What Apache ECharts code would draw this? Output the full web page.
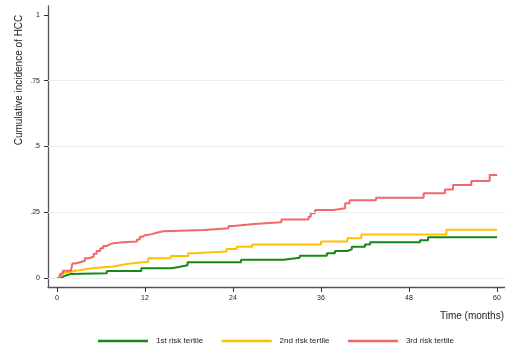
<!DOCTYPE html>
<html><head><meta charset="utf-8">
<script src="https://cdn.jsdelivr.net/npm/echarts@6/dist/echarts.min.js"></script>
<style>html,body{margin:0;padding:0;background:#fff}#c{width:505px;height:352px}</style>
</head><body><div id="c"></div>
<script>
const xTicks = [0, 12, 24, 36, 48, 60];
const yTicks = [0, 0.25, 0.5, 0.75, 1];
const yTickLabels = ['0', '.25', '.5', '.75', '1'];
const gridValues = [0, 0.25, 0.5, 0.75];
const seriesNames = ['1st risk tertile', '2nd risk tertile', '3rd risk tertile'];
const seriesColors = ['#168816', '#ffc000', '#f06868'];

const months1 = [0, 0.5, 0.8, 1.2, 1.8, 6.8, 11.5, 15.6, 16.6, 17.8, 25.1, 30.9, 33.1, 36.8, 37.9, 39.6, 40.2, 42.0, 42.7, 49.5, 50.6, 60];
const inc1 = [0, 0.005, 0.01, 0.015, 0.018, 0.027, 0.037, 0.042, 0.049, 0.060, 0.070, 0.077, 0.085, 0.094, 0.103, 0.109, 0.119, 0.128, 0.136, 0.144, 0.155, 0.155];

const months2 = [0, 0.3, 0.64, 1.3, 2.0, 2.45, 3.1, 4.05, 4.95, 6.3, 7.7, 8.6, 9.5, 11.1, 12.45, 15.5, 17.9, 18.7, 23.1, 24.5, 26.6, 36.0, 39.6, 41.5, 53.1, 60];
const inc2 = [0, 0.01, 0.020, 0.024, 0.028, 0.030, 0.034, 0.037, 0.041, 0.044, 0.049, 0.053, 0.058, 0.062, 0.075, 0.084, 0.094, 0.101, 0.110, 0.119, 0.128, 0.139, 0.151, 0.166, 0.184, 0.184];

const months3 = [0, 0.4, 0.8, 1.9, 2.1, 2.5, 3.4, 3.8, 4.3, 5.0, 5.4, 5.9, 6.3, 6.8, 7.2, 7.7, 9.0, 10.9, 11.3, 11.7, 12.0, 12.9, 13.6, 14.5, 20.1, 23.4, 24.05, 26.9, 30.6, 34.3, 34.6, 35.2, 37.7, 39.3, 39.9, 43.5, 50.0, 52.9, 54.0, 56.5, 59.0, 60];
const inc3 = [0, 0.015, 0.028, 0.035, 0.055, 0.062, 0.066, 0.075, 0.081, 0.092, 0.103, 0.113, 0.122, 0.128, 0.132, 0.136, 0.139, 0.147, 0.157, 0.163, 0.167, 0.172, 0.178, 0.183, 0.189, 0.198, 0.205, 0.212, 0.223, 0.233, 0.246, 0.259, 0.265, 0.284, 0.296, 0.305, 0.322, 0.337, 0.354, 0.369, 0.392, 0.392];

const allMonths = [months1, months2, months3];
const allInc = [inc1, inc2, inc3];

const FONT = 'Liberation Sans, Arial, sans-serif';
const chart = echarts.init(document.getElementById('c'), null, {renderer: 'canvas'});

const series = [{
  type: 'line', data: [], silent: true, z: 1,
  markLine: {
    silent: true, symbol: ['none', 'none'], label: {show: false},
    lineStyle: {color: '#e6eef0', width: 1, type: 'solid'},
    emphasis: {disabled: true},
    data: gridValues.map(v => ({yAxis: v}))
  }
}];
seriesNames.forEach((n, i) => {
  series.push({
    name: n, type: 'line', step: 'end', showSymbol: false, symbol: 'none', z: 3,
    lineStyle: {color: seriesColors[i], width: 2},
    itemStyle: {color: seriesColors[i]},
    data: allMonths[i].map((t, k) => [t, allInc[i][k]])
  });
});

chart.setOption({
  animation: false,
  backgroundColor: '#fff',
  grid: {left: 48, right: 0, top: 6, bottom: 65, containLabel: false},
  xAxis: {
    type: 'value', min: -1.227, max: 61.09,
    axisLine: {show: true, onZero: false, lineStyle: {color: '#555', width: 1.3}},
    axisTick: {show: true, customValues: xTicks, length: 5, lineStyle: {color: '#333', width: 1}},
    axisLabel: {customValues: xTicks, fontSize: 7, color: '#222', fontFamily: FONT, margin: 8},
    splitLine: {show: false}
  },
  yAxis: {
    type: 'value', min: -0.034, max: 1.034,
    axisLine: {show: true, onZero: false, lineStyle: {color: '#555', width: 1.3}},
    axisTick: {show: true, customValues: yTicks, length: 4, lineStyle: {color: '#333', width: 1}},
    axisLabel: {customValues: yTicks, fontSize: 7, color: '#222', fontFamily: FONT, margin: 8,
      formatter: v => { const i = yTicks.findIndex(t => Math.abs(t - v) < 1e-6); return i >= 0 ? yTickLabels[i] : ''; }},
    splitLine: {show: false}
  },
  legend: {
    data: seriesNames.map((n, i) => ({name: n, icon: 'rect', itemStyle: {color: seriesColors[i]}})),
    left: 98, top: 337, padding: 0,
    itemWidth: 50, itemHeight: 2.5, itemGap: 18.5,
    textStyle: {fontSize: 8, color: '#222', fontFamily: FONT, padding: [0, 0, 0, 3]}
  },
  graphic: [
    {type: 'text', x: 19, y: 80, rotation: Math.PI / 2,
     style: {text: 'Cumulative incidence of HCC', fontSize: 10, fontFamily: FONT, fill: '#222', textAlign: 'center', textVerticalAlign: 'middle'}},
    {type: 'text', x: 504, y: 316,
     style: {text: 'Time (months)', fontSize: 10, fontFamily: FONT, fill: '#222', textAlign: 'right', textVerticalAlign: 'middle'}}
  ],
  series: series
});
</script></body></html>
